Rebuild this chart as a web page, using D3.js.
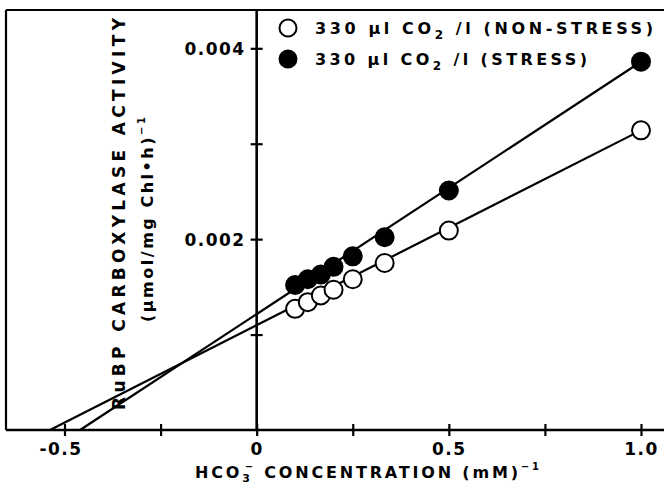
<!DOCTYPE html>
<html>
<head>
<meta charset="utf-8">
<script src="https://cdn.jsdelivr.net/npm/d3@7"></script>
<style>
  body { margin: 0; background: #fff; }
  svg { display: block; }
  text { font-family: "DejaVu Sans", "Liberation Sans", Arial, sans-serif; font-weight: bold; fill: #000; }
</style>
</head>
<body>
<div id="chart"></div>
<script>
// tick values and labels
var xTicks = [-0.5, -0.25, 0, 0.25, 0.5, 0.75, 1.0];
var xTickLabels = ["-0.5", "", "0", "", "0.5", "", "1.0"];
var yTicks = [0.001, 0.002, 0.003, 0.004];
var yTickLabels = ["", "0.002", "", "0.004"];

// 1/[HCO3-] (mM)^-1
var invConc = [0.1, 0.133, 0.167, 0.2, 0.25, 0.333, 0.5, 1.0];
// 1/activity
var nonStress = [0.00127, 0.00134, 0.00141, 0.00147, 0.00158, 0.00175, 0.00209, 0.00314];
var stress = [0.00152, 0.00158, 0.00163, 0.00171, 0.00182, 0.00202, 0.00251, 0.00386];

// fitted lines: [non-stress, stress]
var fitSlope = [0.002042, 0.002644];
var fitIntercept = [0.001098, 0.001215];

var legendLabels = ["330 µl CO|2| /l (NON-STRESS)", "330 µl CO|2| /l (STRESS)"];

var width = 664, height = 486;
var fontFam = "'DejaVu Sans', 'Liberation Sans', Arial, sans-serif";

var svg = d3.select("#chart").append("svg")
    .attr("width", width)
    .attr("height", height);

var x = d3.scaleLinear().domain([-0.5, 1.0]).range([64.5, 641]);
var y = d3.scaleLinear().domain([0, 0.004]).range([430, 48.3]);

var frameLeft = 6, frameTop = 10;

/* ---------- frame ---------- */
svg.append("line")
    .attr("x1", frameLeft).attr("x2", width + 10)
    .attr("y1", frameTop).attr("y2", frameTop)
    .attr("stroke", "#000").attr("stroke-width", 2.2);
svg.append("line")
    .attr("x1", frameLeft).attr("x2", frameLeft)
    .attr("y1", frameTop).attr("y2", y(0))
    .attr("stroke", "#000").attr("stroke-width", 2.2);

/* ---------- x axis ---------- */
var xAxis = d3.axisBottom(x)
    .tickValues(xTicks)
    .tickSize(6)
    .tickFormat(function (d, i) { return xTickLabels[i]; });

var gx = svg.append("g")
    .attr("transform", "translate(0," + y(0) + ")")
    .call(xAxis);
gx.select(".domain").remove();
gx.append("line")
    .attr("x1", frameLeft).attr("x2", width + 10)
    .attr("stroke", "#000").attr("stroke-width", 2.6);
gx.selectAll(".tick line")
    .attr("y1", -6).attr("y2", 6)
    .attr("stroke", "#000").attr("stroke-width", 2.2);
gx.selectAll(".tick text")
    .attr("y", 25)
    .attr("dy", 0)
    .attr("dx", function (d) { return d < 0 ? -4 : 0; })
    .style("font-size", "17px")
    .style("letter-spacing", "1.5px")
    .style("font-family", fontFam)
    .style("font-weight", "bold");

/* ---------- y axis ---------- */
var yAxis = d3.axisLeft(y)
    .tickValues(yTicks)
    .tickSize(6)
    .tickFormat(function (d, i) { return yTickLabels[i]; });

var gy = svg.append("g")
    .attr("transform", "translate(" + x(0) + ",0)")
    .call(yAxis);
gy.select(".domain").remove();
gy.append("line")
    .attr("y1", frameTop).attr("y2", y(0))
    .attr("stroke", "#000").attr("stroke-width", 2.6);
gy.selectAll(".tick line")
    .attr("x1", -6).attr("x2", 6)
    .attr("stroke", "#000").attr("stroke-width", 2.2);
gy.selectAll(".tick text")
    .attr("x", -11)
    .attr("dy", "0.36em")
    .style("font-size", "17px")
    .style("letter-spacing", "1.5px")
    .style("font-family", fontFam)
    .style("font-weight", "bold");

/* ---------- fitted lines ---------- */
fitSlope.forEach(function (m, i) {
    var b = fitIntercept[i];
    var x0 = -b / m;
    svg.append("line")
        .attr("x1", x(x0)).attr("y1", y(0))
        .attr("x2", x(1.0)).attr("y2", y(b + m * 1.0))
        .attr("stroke", "#000")
        .attr("stroke-width", 2.2);
});

/* ---------- points ---------- */
var r = 9;
svg.selectAll(".open")
    .data(invConc)
    .enter().append("circle")
    .attr("class", "open")
    .attr("cx", function (d) { return x(d); })
    .attr("cy", function (d, i) { return y(nonStress[i]); })
    .attr("r", r)
    .attr("fill", "#fff")
    .attr("stroke", "#000")
    .attr("stroke-width", 2);

svg.selectAll(".filled")
    .data(invConc)
    .enter().append("circle")
    .attr("class", "filled")
    .attr("cx", function (d) { return x(d); })
    .attr("cy", function (d, i) { return y(stress[i]); })
    .attr("r", r)
    .attr("fill", "#000")
    .attr("stroke", "#000")
    .attr("stroke-width", 2);

/* ---------- legend ---------- */
var legendY = [28, 59];
var legendWidths = [338, 272];
legendLabels.forEach(function (lbl, i) {
    svg.append("circle")
        .attr("cx", 288).attr("cy", legendY[i])
        .attr("r", 8.5)
        .attr("fill", i == 0 ? "#fff" : "#000")
        .attr("stroke", "#000")
        .attr("stroke-width", 2);

    var parts = lbl.split("|");
    var t = svg.append("text")
        .attr("x", 315)
        .attr("y", legendY[i] + 6)
        .style("font-size", "16px")
        .attr("textLength", legendWidths[i])
        .attr("lengthAdjust", "spacing");
    t.append("tspan").text(parts[0]);
    t.append("tspan").attr("dy", 5).style("font-size", "12px").text(parts[1]);
    t.append("tspan").attr("dy", -5).text(parts[2]);
});

/* ---------- axis titles ---------- */
var xt = svg.append("text")
    .attr("x", 195)
    .attr("y", 478)
    .style("font-size", "16px")
    .attr("textLength", 344)
    .attr("lengthAdjust", "spacing");
xt.append("tspan").text("HCO");
xt.append("tspan").attr("dy", 4).style("font-size", "11px").text("3");
xt.append("tspan").attr("dy", -12).attr("dx", -8).style("font-size", "10px").text("−");
xt.append("tspan").attr("dy", 8).text(" CONCENTRATION (mM)");
xt.append("tspan").attr("dy", -8).style("font-size", "10px").text("−1");

svg.append("text")
    .attr("transform", "translate(125,410) rotate(-90)")
    .style("font-size", "17px")
    .attr("textLength", 392)
    .attr("lengthAdjust", "spacing")
    .text("RuBP CARBOXYLASE ACTIVITY");

var yt2 = svg.append("text")
    .attr("transform", "translate(153,322) rotate(-90)")
    .style("font-size", "16px")
    .attr("textLength", 205)
    .attr("lengthAdjust", "spacing");
yt2.append("tspan").text("(µmol/mg Chl•h)");
yt2.append("tspan").attr("dy", -8).style("font-size", "10px").text("−1");
</script>
</body>
</html>
